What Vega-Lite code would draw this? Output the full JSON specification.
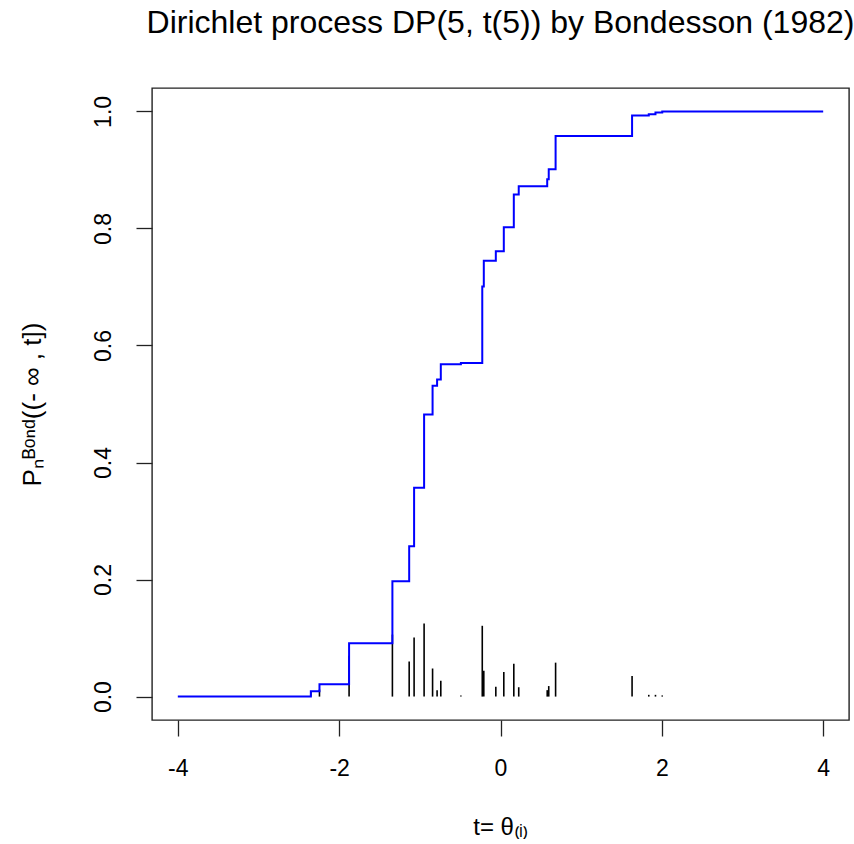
{
  "$schema": "https://vega.github.io/schema/vega-lite/v6.json",
  "autosize": {"type": "none"},
  "padding": {"left": 152, "top": 88, "right": 5, "bottom": 124},
  "width": 697,
  "height": 632,
  "background": "white",
  "title": {
    "text": "Dirichlet process DP(5, t(5)) by Bondesson (1982)",
    "font": "Liberation Sans",
    "fontSize": 32,
    "fontWeight": "normal",
    "color": "black",
    "anchor": "middle",
    "frame": "group",
    "baseline": "bottom",
    "offset": 16
  },
  "datasets": {
    "cdf": [
      {"t": -4.0, "F": 0.0},
      {"t": -2.351, "F": 0.009},
      {"t": -2.244, "F": 0.021},
      {"t": -1.877, "F": 0.091},
      {"t": -1.340, "F": 0.197},
      {"t": -1.132, "F": 0.257},
      {"t": -1.071, "F": 0.357},
      {"t": -0.947, "F": 0.482},
      {"t": -0.842, "F": 0.531},
      {"t": -0.786, "F": 0.542},
      {"t": -0.740, "F": 0.568},
      {"t": -0.491, "F": 0.570},
      {"t": -0.226, "F": 0.701},
      {"t": -0.207, "F": 0.745},
      {"t": -0.058, "F": 0.761},
      {"t": 0.041, "F": 0.802},
      {"t": 0.165, "F": 0.858},
      {"t": 0.226, "F": 0.872},
      {"t": 0.579, "F": 0.884},
      {"t": 0.598, "F": 0.901},
      {"t": 0.683, "F": 0.958},
      {"t": 1.631, "F": 0.993},
      {"t": 1.838, "F": 0.995},
      {"t": 1.921, "F": 0.998},
      {"t": 2.005, "F": 1.0},
      {"t": 4.0, "F": 1.0}
    ],
    "atoms": [
      {"t": -2.351, "w": 0.009},
      {"t": -2.244, "w": 0.012},
      {"t": -1.877, "w": 0.070},
      {"t": -1.340, "w": 0.106},
      {"t": -1.132, "w": 0.060},
      {"t": -1.071, "w": 0.101},
      {"t": -0.947, "w": 0.125},
      {"t": -0.842, "w": 0.048},
      {"t": -0.786, "w": 0.011},
      {"t": -0.740, "w": 0.027},
      {"t": -0.491, "w": 0.002},
      {"t": -0.226, "w": 0.121},
      {"t": -0.207, "w": 0.044},
      {"t": -0.058, "w": 0.017},
      {"t": 0.041, "w": 0.042},
      {"t": 0.165, "w": 0.056},
      {"t": 0.226, "w": 0.016},
      {"t": 0.579, "w": 0.011},
      {"t": 0.598, "w": 0.018},
      {"t": 0.683, "w": 0.058},
      {"t": 1.631, "w": 0.035},
      {"t": 1.838, "w": 0.003},
      {"t": 1.921, "w": 0.003},
      {"t": 2.005, "w": 0.002}
    ]
  },
  "layer": [
    {
      "data": {"name": "atoms"},
      "mark": {"type": "rule", "color": "black", "strokeWidth": 1.6},
      "encoding": {
        "x": {
          "field": "t", "type": "quantitative",
          "scale": {"domain": [-4.32, 4.32], "nice": false, "zero": false},
          "axis": {
            "values": [-4, -2, 0, 2, 4],
            "labelExpr": "'' + datum.value",
            "title": "t= θ₍ᵢ₎",
            "titleX": 348,
            "titleY": 114,
            "titleAlign": "center",
            "titleBaseline": "alphabetic",
            "titleFont": "Liberation Sans",
            "titleFontSize": 24,
            "titleFontWeight": "normal",
            "titleColor": "black",
            "labelFont": "Liberation Sans",
            "labelFontSize": 23,
            "labelColor": "black",
            "labelPadding": 21,
            "labelBaseline": "top",
            "tickSize": 16,
            "tickColor": "#222",
            "tickWidth": 1.3,
            "domain": false,
            "grid": false
          }
        },
        "y": {
          "field": "w", "type": "quantitative",
          "scale": {"domain": [-0.04, 1.04], "nice": false, "zero": false},
          "axis": {
            "values": [0, 0.2, 0.4, 0.6, 0.8, 1.0],
            "labelExpr": "format(datum.value, '.1f')",
            "labelAngle": -90,
            "labelAlign": "center",
            "labelBaseline": "alphabetic",
            "labelPadding": 26,
            "labelFont": "Liberation Sans",
            "labelFontSize": 23,
            "labelColor": "black",
            "title": "Pₙᴮᵒⁿᵈ((- ∞ , t])",
            "titleAngle": -90,
            "titleX": -112,
            "titleY": 316,
            "titleAlign": "center",
            "titleBaseline": "alphabetic",
            "titleFont": "Liberation Sans",
            "titleFontSize": 26,
            "titleFontWeight": "normal",
            "titleColor": "black",
            "tickSize": 16,
            "tickColor": "#222",
            "tickWidth": 1.3,
            "domain": false,
            "grid": false
          }
        },
        "y2": {"datum": 0}
      }
    },
    {
      "data": {"name": "cdf"},
      "mark": {"type": "line", "color": "#0000FF", "strokeWidth": 2, "interpolate": "step-after"},
      "encoding": {
        "x": {"field": "t", "type": "quantitative"},
        "y": {"field": "F", "type": "quantitative"}
      }
    }
  ],
  "config": {
    "view": {"stroke": "#222", "strokeWidth": 1.4},
    "font": "Liberation Sans"
  }
}
